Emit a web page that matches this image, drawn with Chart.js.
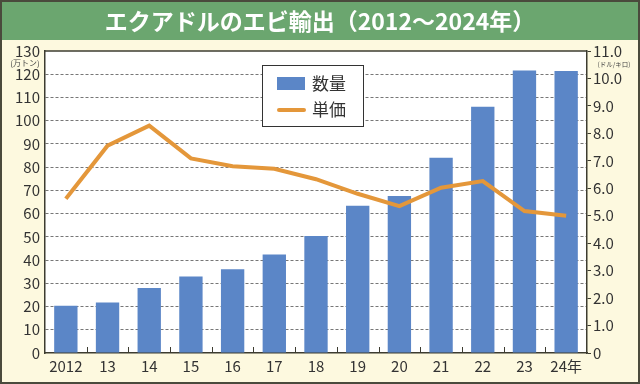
<!DOCTYPE html>
<html><head><meta charset="utf-8">
<script src="https://cdn.jsdelivr.net/npm/chart.js@4.4.1/dist/chart.umd.min.js"></script>
<style>html,body{margin:0;padding:0;background:#fdf9df;}#wrap{width:640px;height:384px;}</style>
</head><body><div id="wrap"><canvas id="c" width="640" height="384"></canvas></div>
<script>
const categories = ['2012','13','14','15','16','17','18','19','20','21','22','23','24年'];
const volume = [20.3, 21.7, 28.0, 32.9, 36.1, 42.4, 50.4, 63.4, 67.6, 84.0, 106.0, 121.6, 121.4];
const price = [5.62, 7.55, 8.28, 7.09, 6.80, 6.71, 6.33, 5.80, 5.35, 6.02, 6.26, 5.17, 5.00];
const seriesNames = ['数量', '単価'];
const titleText = 'エクアドルのエビ輸出（2012～2024年）';
const leftUnit = '(万トン)';
const rightUnit = '(ドル/キロ)';

const FONT = "'Noto Sans CJK JP', 'Noto Sans', sans-serif";
const DARK = '#3d3c30';
Chart.defaults.font.family = FONT;

const deco = {
  id: 'deco',
  beforeDraw(chart) {
    const {ctx, chartArea: a, width, height} = chart;
    ctx.save();
    ctx.fillStyle = '#fdf9df';
    ctx.fillRect(0, 0, width, height);
    ctx.fillStyle = '#6ba66f';
    ctx.fillRect(0, 0, width, 40);
    ctx.fillStyle = '#ffffff';
    ctx.fillRect(a.left, a.top, a.right - a.left, a.bottom - a.top);
    ctx.restore();
  },
  afterDraw(chart) {
    const {ctx, chartArea: a, width, height} = chart;
    const xs = chart.scales.x;
    ctx.save();
    ctx.strokeStyle = DARK; ctx.lineWidth = 1.5;
    ctx.beginPath(); ctx.moveTo(a.left, a.top); ctx.lineTo(a.right, a.top); ctx.stroke();
    ctx.lineWidth = 1;
    for (let i = 0; i < categories.length - 1; i++) {
      const bx = Math.round((xs.getPixelForValue(i) + xs.getPixelForValue(i + 1)) / 2) + 0.5;
      ctx.beginPath(); ctx.moveTo(bx, a.bottom); ctx.lineTo(bx, a.bottom - 6); ctx.stroke();
    }
    ctx.strokeStyle = '#4a4a3c'; ctx.lineWidth = 2;
    ctx.strokeRect(1, 1, width - 2, height - 2);
    ctx.fillStyle = '#ffffff';
    ctx.font = 'bold 23px ' + FONT;
    ctx.textAlign = 'center'; ctx.textBaseline = 'middle';
    ctx.fillText(titleText, width / 2, 21);
    ctx.fillStyle = '#444';
    ctx.font = '8px ' + FONT;
    ctx.fillText(leftUnit, 25, 63);
    ctx.font = '6.5px ' + FONT;
    ctx.fillText(rightUnit, 614, 65);
    const ds = chart.data.datasets;
    ctx.fillStyle = '#ffffff';
    ctx.fillRect(262.5, 65.5, 101, 61);
    ctx.strokeStyle = '#333'; ctx.lineWidth = 1;
    ctx.strokeRect(262.5, 65.5, 101, 61);
    ctx.fillStyle = ds[0].backgroundColor;
    ctx.fillRect(277, 77, 28, 13);
    ctx.strokeStyle = ds[1].borderColor; ctx.lineWidth = 4; ctx.lineCap = 'round';
    ctx.beginPath(); ctx.moveTo(279, 110); ctx.lineTo(304, 110); ctx.stroke();
    ctx.fillStyle = '#333';
    ctx.font = '17px ' + FONT;
    ctx.textAlign = 'left';
    ctx.fillText(ds[0].label, 312, 84);
    ctx.fillText(ds[1].label, 312, 110);
    ctx.restore();
  }
};

new Chart(document.getElementById('c'), {
  data: {
    labels: categories,
    datasets: [
      {type: 'bar', label: seriesNames[0], data: volume, yAxisID: 'y',
       backgroundColor: '#5b86c7', borderWidth: 0, categoryPercentage: 1, barPercentage: 0.56, order: 2},
      {type: 'line', label: seriesNames[1], data: price, yAxisID: 'y1',
       borderColor: '#e4973a', borderWidth: 4, pointRadius: 0, tension: 0, fill: false, order: 1}
    ]
  },
  options: {
    responsive: false, animation: false, devicePixelRatio: 1,
    layout: {padding: {top: 51, left: 0, right: 0, bottom: 0}},
    plugins: {legend: {display: false}, tooltip: {enabled: false}, title: {display: false}},
    scales: {
      x: {
        grid: {display: false, drawTicks: false},
        border: {display: true, color: DARK, width: 1.5},
        ticks: {color: '#333', font: {size: 15}, padding: 4, maxRotation: 0, autoSkip: false},
        afterFit(s) { s.height = 31; }
      },
      y: {
        position: 'left', min: 0, max: 130,
        ticks: {stepSize: 10, color: '#333', font: {size: 15}, padding: 5},
        grid: {drawTicks: false, lineWidth: 1,
               color: c => (c.tick && (c.tick.value === 0 || c.tick.value === 130)) ? 'rgba(0,0,0,0)' : '#777'},
        border: {display: true, color: DARK, width: 1.5, dash: [3, 2]},
        afterFit(s) { s.width = 45; }
      },
      y1: {
        position: 'right', min: 0, max: 11,
        ticks: {stepSize: 1, color: '#333', font: {size: 15}, padding: 2,
                callback: v => v === 0 ? '0' : v.toFixed(1)},
        grid: {drawOnChartArea: false, drawTicks: true, tickLength: 4, color: DARK},
        border: {display: true, color: DARK, width: 1.5},
        afterFit(s) { s.width = 53; }
      }
    }
  },
  plugins: [deco]
});
</script></body></html>
